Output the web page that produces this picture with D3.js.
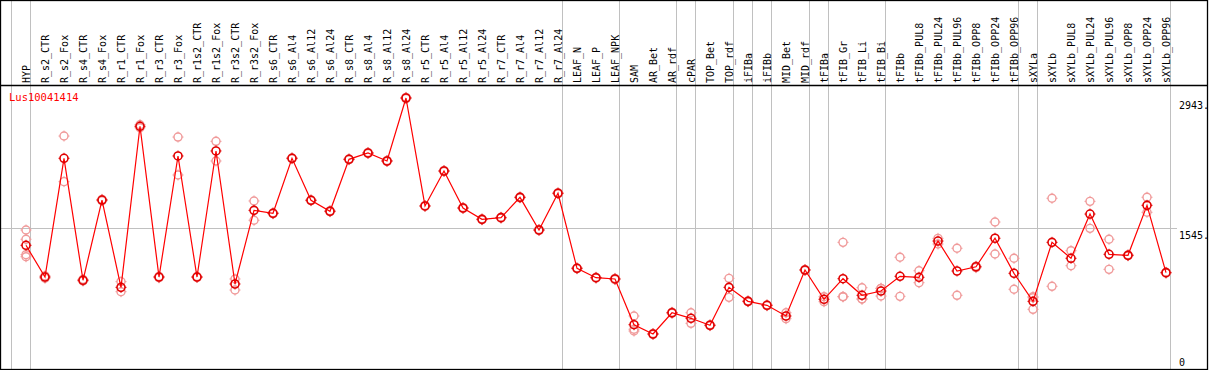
<!DOCTYPE html>
<html><head><meta charset="utf-8">
<script src="https://cdn.jsdelivr.net/npm/d3@7"></script>
<style>
html,body{margin:0;padding:0;background:#fff;}
svg{display:block;}
text{font-family:"DejaVu Sans Mono","Liberation Mono",monospace;font-size:10px;}
</style></head>
<body>
<svg id="chart" width="1209" height="370"></svg>
<script>
const geneName = "Lus10041414";
const categories = ["HYP","R_s2_CTR","R_s2_Fox","R_s4_CTR","R_s4_Fox","R_r1_CTR","R_r1_Fox","R_r3_CTR","R_r3_Fox","R_r1s2_CTR","R_r1s2_Fox","R_r3s2_CTR","R_r3s2_Fox","R_s6_CTR","R_s6_Al4","R_s6_Al12","R_s6_Al24","R_s8_CTR","R_s8_Al4","R_s8_Al12","R_s8_Al24","R_r5_CTR","R_r5_Al4","R_r5_Al12","R_r5_Al24","R_r7_CTR","R_r7_Al4","R_r7_Al12","R_r7_Al24","LEAF_N","LEAF_P","LEAF_NPK","SAM","AR_Bet","AR_rdf","cPAR","TOP_Bet","TOP_rdf","iFIBa","iFIBb","MID_Bet","MID_rdf","tFIBa","tFIB_Gr","tFIB_Li","tFIB_Bi","tFIBb","tFIBb_PUL8","tFIBb_PUL24","tFIBb_PUL96","tFIBb_OPP8","tFIBb_OPP24","tFIBb_OPP96","sXYLa","sXYLb","sXYLb_PUL8","sXYLb_PUL24","sXYLb_PUL96","sXYLb_OPP8","sXYLb_OPP24","sXYLb_OPP96"];
const meanValues = [1355,1013,2293,978,1843,902,2638,1013,2318,1013,2372,938,1732,1700,2293,1840,1722,2282,2350,2264,2943,1779,2156,1757,1635,1653,1872,1520,1916,1107,1006,992,499,399,628,568,493,902,751,708,593,1089,773,995,816,862,1021,1010,1401,1078,1124,1431,1053,751,1387,1215,1692,1258,1247,1786,1060];
const replicateValues = [
 [1520,1420,1254,1232],[1000,1025],[2533,2041],[970,988],[1835,1850],[963,855],[2655,2622],[1005,1020],[2522,2113],[1008,1018],
 [2476,2264],[992,873],[1833,1625],[1695,1705],[2288,2298],[1835,1845],[1717,1727],[2277,2287],[2345,2355],[2259,2269],
 [2950,2936],[1774,1784],[2151,2161],[1752,1762],[1630,1640],[1648,1658],[1867,1877],[1515,1525],[1911,1921],[1102,1112],
 [1001,1011],[985,999],[593,450,431],[394,404],[623,633],[628,514],[488,498],[999,794],[746,756],[703,713],
 [628,564],[1084,1094],[801,747],[1387,801,801],[898,776,776],[891,891,808],[1226,805],[1081,952],[1430,1369],[1323,816],
 [1114,1130],[1606,1261],[1215,881],[801,665,790],[1862,913],[1297,1135],[1829,1538],[1420,1096],[1242,1252],[1873,1711],
 [1055,1065]
];
const groupEnds = [-1,0,28,31,34,35,37,38,39,41,42,45,52,53,60];
const yTickValues = [2943,1545,0];
const yTickLabels = ["2943.","1545.","0"];

const W = 1209, H = 370;
const svg = d3.select("#chart");
const x = d3.scalePoint().domain(categories).range([26,1166]);
const step = x.step();
const y = d3.scaleLinear().domain([0,2943]).range([371,98]);
const headerBottom = 85;

// vertical group separators (full height)
svg.append("g").selectAll("line").data(groupEnds).join("line")
  .attr("x1", d => 26 + step*d + 4.5).attr("x2", d => 26 + step*d + 4.5)
  .attr("y1", 0).attr("y2", H)
  .attr("stroke", "#c0c0c0").attr("stroke-width", 1).attr("shape-rendering","crispEdges");

// horizontal grid line at middle tick
svg.append("g").selectAll("line").data(yTickValues.filter(v => v > 0 && v < 2943)).join("line")
  .attr("x1", 1).attr("x2", 1177)
  .attr("y1", d => Math.round(y(d))+0.5).attr("y2", d => Math.round(y(d))+0.5)
  .attr("stroke", "#c0c0c0").attr("stroke-width", 1).attr("shape-rendering","crispEdges");

// y tick labels
svg.append("g").selectAll("text").data(yTickValues).join("text")
  .attr("x", 1179)
  .attr("y", d => Math.min(y(d) + 11, 366))
  .attr("fill", "#000")
  .text((d,i) => yTickLabels[i]);

// frame
svg.append("rect").attr("x",0.5).attr("y",0.5).attr("width",W-2).attr("height",H-1)
  .attr("fill","none").attr("stroke","#000").attr("stroke-width",1.3);
svg.append("line").attr("x1",0).attr("x2",W-1).attr("y1",headerBottom+0.5).attr("y2",headerBottom+0.5)
  .attr("stroke","#000").attr("stroke-width",1.3);

// category labels (rotated)
svg.append("g").selectAll("text").data(categories).join("text")
  .attr("transform", d => `translate(${x(d)+4},83) rotate(-90)`)
  .attr("fill","#000")
  .text(d => d);

// gene name
svg.append("text").attr("x", 9).attr("y", 101).attr("fill", "#ff0000")
  .style("font-size","10.5px").text(geneName);

// replicate points
const repData = [];
replicateValues.forEach((arr,i) => arr.forEach(v => repData.push({c: categories[i], v})));
const ticks = (g, col, w) => {
  g.each(function(d){
    const gg = d3.select(this);
    [[0,-1],[0,1],[-1,0],[1,0]].forEach(([dx,dy]) => {
      gg.append("line")
        .attr("x1", dx*4).attr("y1", dy*4).attr("x2", dx*5.5).attr("y2", dy*5.5)
        .attr("stroke", col).attr("stroke-width", w);
    });
  });
};
const repG = svg.append("g").selectAll("g").data(repData).join("g")
  .attr("transform", d => `translate(${x(d.c)},${y(d.v)})`);
repG.append("circle").attr("r",4).attr("fill","none").attr("stroke","#f09a9a").attr("stroke-width",1.4);
ticks(repG, "#f09a9a", 1);

// mean line
const meanData = categories.map((c,i) => ({c, v: meanValues[i]}));
svg.append("path").datum(meanData)
  .attr("d", d3.line().x(d => x(d.c)).y(d => y(d.v)))
  .attr("fill","none").attr("stroke","#ff0000").attr("stroke-width",1.2);

const meanG = svg.append("g").selectAll("g").data(meanData).join("g")
  .attr("transform", d => `translate(${x(d.c)},${y(d.v)})`);
meanG.append("circle").attr("r",4).attr("fill","none").attr("stroke","#e00000").attr("stroke-width",1.6);
ticks(meanG, "#e00000", 1);
</script>
</body></html>
